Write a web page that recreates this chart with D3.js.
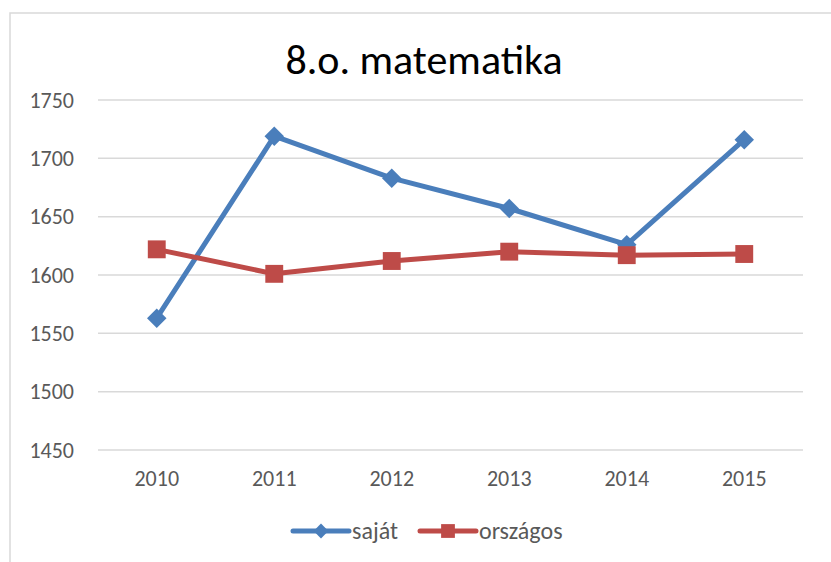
<!DOCTYPE html>
<html>
<head>
<meta charset="utf-8">
<script src="https://cdn.jsdelivr.net/npm/d3@7/dist/d3.min.js"></script>
<style>
  body { margin: 0; background: #fff; }
  text { font-family: Carlito, Calibri, Lato, "Open Sans", sans-serif; }
</style>
</head>
<body>
<svg id="chart" width="831" height="562"></svg>
<script>
// chart data
var years = ['2010', '2011', '2012', '2013', '2014', '2015'];
var sajat = [1563, 1719, 1683, 1657, 1626, 1716];
var orszagos = [1622, 1601, 1612, 1620, 1617, 1618];
var yTicks = [1450, 1500, 1550, 1600, 1650, 1700, 1750];
var seriesNames = ['saját', 'országos'];
var seriesColors = ['#4A7EBB', '#BE4B48'];

(function () {

var svg = d3.select('#chart');

// outer chart frame (only left and top show in the crop)
svg.append('rect')
	.attr('x', 10).attr('y', 13)
	.attr('width', 900).attr('height', 700)
	.attr('fill', 'none')
	.attr('stroke', '#D9D9D9')
	.attr('stroke-width', 1.5);

var x = d3.scaleBand().domain(years).range([98, 803]);
var y = d3.scaleLinear().domain([1450, 1750]).range([450, 100]);

// gridlines
svg.append('g').selectAll('line').data(yTicks).enter().append('line')
	.attr('x1', 98).attr('x2', 803)
	.attr('y1', function (d) { return y(d); })
	.attr('y2', function (d) { return y(d); })
	.attr('stroke', '#D9D9D9')
	.attr('stroke-width', 1.5);

function styleLabels(g) {
	g.select('.domain').remove();
	g.selectAll('text')
		.attr('fill', '#595959')
		.style('font-size', '22px')
		.style('font-family', 'Carlito, Calibri, Lato, sans-serif');
}

// y axis labels
var yAxis = d3.axisLeft(y).tickValues(yTicks).tickFormat(d3.format('d')).tickSize(0).tickPadding(0);
svg.append('g').attr('transform', 'translate(74,0)').call(yAxis).call(styleLabels);

// x axis labels
var xAxis = d3.axisBottom(x).tickSize(0).tickPadding(0);
svg.append('g').attr('transform', 'translate(0,470)').call(xAxis).call(styleLabels);

// title
svg.append('text')
	.attr('x', 424).attr('y', 74)
	.attr('text-anchor', 'middle')
	.attr('fill', '#000')
	.style('font-size', '42px')
	.text('8.o. matematika');

var line = d3.line()
	.x(function (d, i) { return x(years[i]) + x.bandwidth() / 2; })
	.y(function (d) { return y(d); });

var diamond = d3.symbol().type(d3.symbolSquare).size(190);
var square = d3.symbol().type(d3.symbolSquare).size(320);

function drawSeries(values, color, isDiamond) {
	svg.append('path')
		.attr('d', line(values))
		.attr('fill', 'none')
		.attr('stroke', color)
		.attr('stroke-width', 5)
		.attr('stroke-linejoin', 'round');

	svg.append('g').selectAll('path').data(values).enter().append('path')
		.attr('d', isDiamond ? diamond : square)
		.attr('transform', function (d, i) {
			var t = 'translate(' + (x(years[i]) + x.bandwidth() / 2) + ',' + y(d) + ')';
			return isDiamond ? t + ' rotate(45)' : t;
		})
		.attr('fill', color);
}

drawSeries(sajat, seriesColors[0], true);
drawSeries(orszagos, seriesColors[1], false);

// legend
var legendItems = [
	{ name: seriesNames[0], color: seriesColors[0], x0: 293, diamond: true },
	{ name: seriesNames[1], color: seriesColors[1], x0: 420, diamond: false }
];
var legend = svg.append('g').selectAll('g').data(legendItems).enter().append('g')
	.attr('transform', function (d) { return 'translate(' + d.x0 + ',531)'; });

legend.append('line')
	.attr('x1', 0).attr('x2', 56)
	.attr('stroke', function (d) { return d.color; })
	.attr('stroke-width', 5)
	.attr('stroke-linecap', 'round');
legend.append('path')
	.attr('d', function (d) {
		return d.diamond ? d3.symbol().type(d3.symbolSquare).size(110)() : d3.symbol().type(d3.symbolSquare).size(190)();
	})
	.attr('transform', function (d) { return d.diamond ? 'translate(28,0) rotate(45)' : 'translate(28,0)'; })
	.attr('fill', function (d) { return d.color; });
legend.append('text')
	.attr('x', 59).attr('y', 8)
	.attr('fill', '#595959')
	.style('font-size', '24px')
	.text(function (d) { return d.name; });

})();
</script>
</body>
</html>
